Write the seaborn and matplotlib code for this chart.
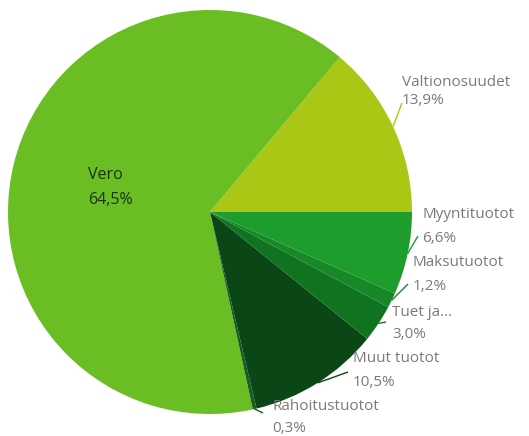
import numpy as np
import matplotlib
matplotlib.use("Agg")
import matplotlib.pyplot as plt
import seaborn as sns

# Data (counterclockwise from 0°)
categories = ["Valtionosuudet", "Vero", "Rahoitustuotot", "Muut tuotot",
              "Tuet ja...", "Maksutuotot", "Myyntituotot"]
values = [13.9, 64.5, 0.3, 10.5, 3.0, 1.2, 6.6]
pct_labels = ["13,9%", "64,5%", "0,3%", "10,5%", "3,0%", "1,2%", "6,6%"]
colors = ["#a9c714", "#6abd23", "#155f1c", "#0b4716", "#0f731f", "#188728", "#1c9d2c"]

sns.set_theme(style="white")
plt.rcParams['font.family'] = ['Open Sans', 'DejaVu Sans']

W, H = 529, 436
fig = plt.figure(figsize=(W / 100, H / 100), dpi=100)
ax = fig.add_axes([0, 0, 1, 1])
cx, cy, R = 210, 212, 202

wedges, _ = ax.pie(values, colors=colors, startangle=0, counterclock=True,
                   radius=1.0, center=(0, 0), frame=True,
                   wedgeprops=dict(linewidth=0))
ax.set_xlim((0 - cx) / R, (W - cx) / R)
ax.set_ylim((cy - H) / R, cy / R)
ax.set_aspect("equal")
ax.axis("off")

def px(x, y):
    return (x - cx) / R, (cy - y) / R

# outside label layout (pixel positions of text left edge / line centers)
label_pos = {
    "Valtionosuudet": (402, 83, 101),
    "Myyntituotot": (422, 215, 239),
    "Maksutuotot": (413, 263, 287),
    "Tuet ja...": (392, 312, 335),
    "Muut tuotot": (353, 358, 382),
    "Rahoitustuotot": (272, 406, 428),
}
line_end = {
    "Valtionosuudet": (402, 103),
    "Myyntituotot": (418, 236),
    "Maksutuotot": (408, 284),
    "Tuet ja...": (386, 322),
    "Muut tuotot": (348, 372),
    "Rahoitustuotot": (263, 413),
}
text_color = "#7a7a7a"
fs = 11
for w, cat, pct, col in zip(wedges, categories, pct_labels, colors):
    mid = np.deg2rad((w.theta1 + w.theta2) / 2)
    if cat == "Vero":
        ax.text(*px(88, 175), cat, fontsize=11.5, color="#1b3310", va="center",
                ha="left", fontweight="medium")
        ax.text(*px(88, 200), pct, fontsize=11.5, color="#1b3310", va="center",
                ha="left", fontweight="medium")
        continue
    tx, ny, py_ = label_pos[cat]
    ax.text(*px(tx, ny), cat, fontsize=fs, color=text_color, va="center", ha="left")
    ax.text(*px(tx, py_), pct, fontsize=fs, color=text_color, va="center", ha="left")
    ex, ey = np.cos(mid), np.sin(mid)
    lx, ly = px(*line_end[cat])
    ax.plot([ex, lx], [ey, ly], color=col, lw=1.0, solid_capstyle="butt")

fig.savefig("out.png", dpi=100, facecolor="white")
